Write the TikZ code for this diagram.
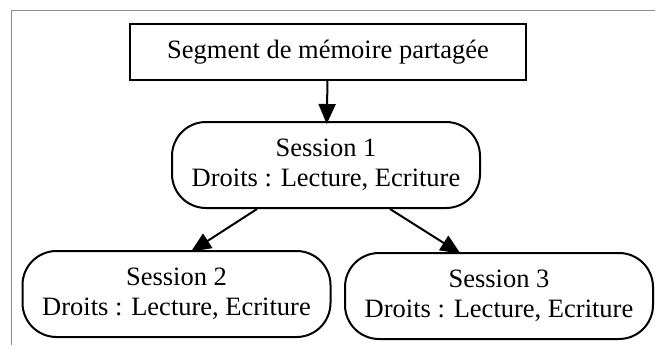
\documentclass[tikz,border=0pt]{standalone}
\usepackage{fontspec}
\setmainfont{Liberation Serif}
\usepackage{tikz}
\usetikzlibrary{shapes, arrows.meta}

\begin{document}
\begin{tikzpicture}[x=1pt, y=-1pt]

\tikzstyle{connector} = [draw, line width=2pt, shorten >=-3pt, -{Triangle[length=20pt, width=17pt]}]
\tikzstyle{segment} = [rectangle, draw, line width=2pt, text centered, minimum width=396pt, minimum height=56pt, font=\fontsize{26.5}{30}\selectfont]
\tikzstyle{session} = [rectangle, draw, line width=2pt, rounded corners=34pt, align=center, minimum width=308pt, minimum height=86pt, font=\fontsize{26.5}{30}\selectfont]

\useasboundingbox (0,0) rectangle (655,345);
\draw[gray!90, line width=1pt] (11,345) -- (11,11) -- (655,11);

\node [segment] at (328,52) (shm) {Segment de mémoire partagée};
\node [session] at (326,165) (s1) {Session 1\\Droits : Lecture, Ecriture};
\node [session] at (176.5,294) (s2) {Session 2\\Droits : Lecture, Ecriture};
\node [session] at (499,296) (s3) {Session 3\\Droits : Lecture, Ecriture};

\path [connector] (shm) -- (s1);
\path [connector] ([xshift=-69pt]s1.south) -- ([xshift=17pt]s2.north);
\path [connector] ([xshift=64pt]s1.south) -- ([xshift=-41pt]s3.north);

\end{tikzpicture}
\end{document}
